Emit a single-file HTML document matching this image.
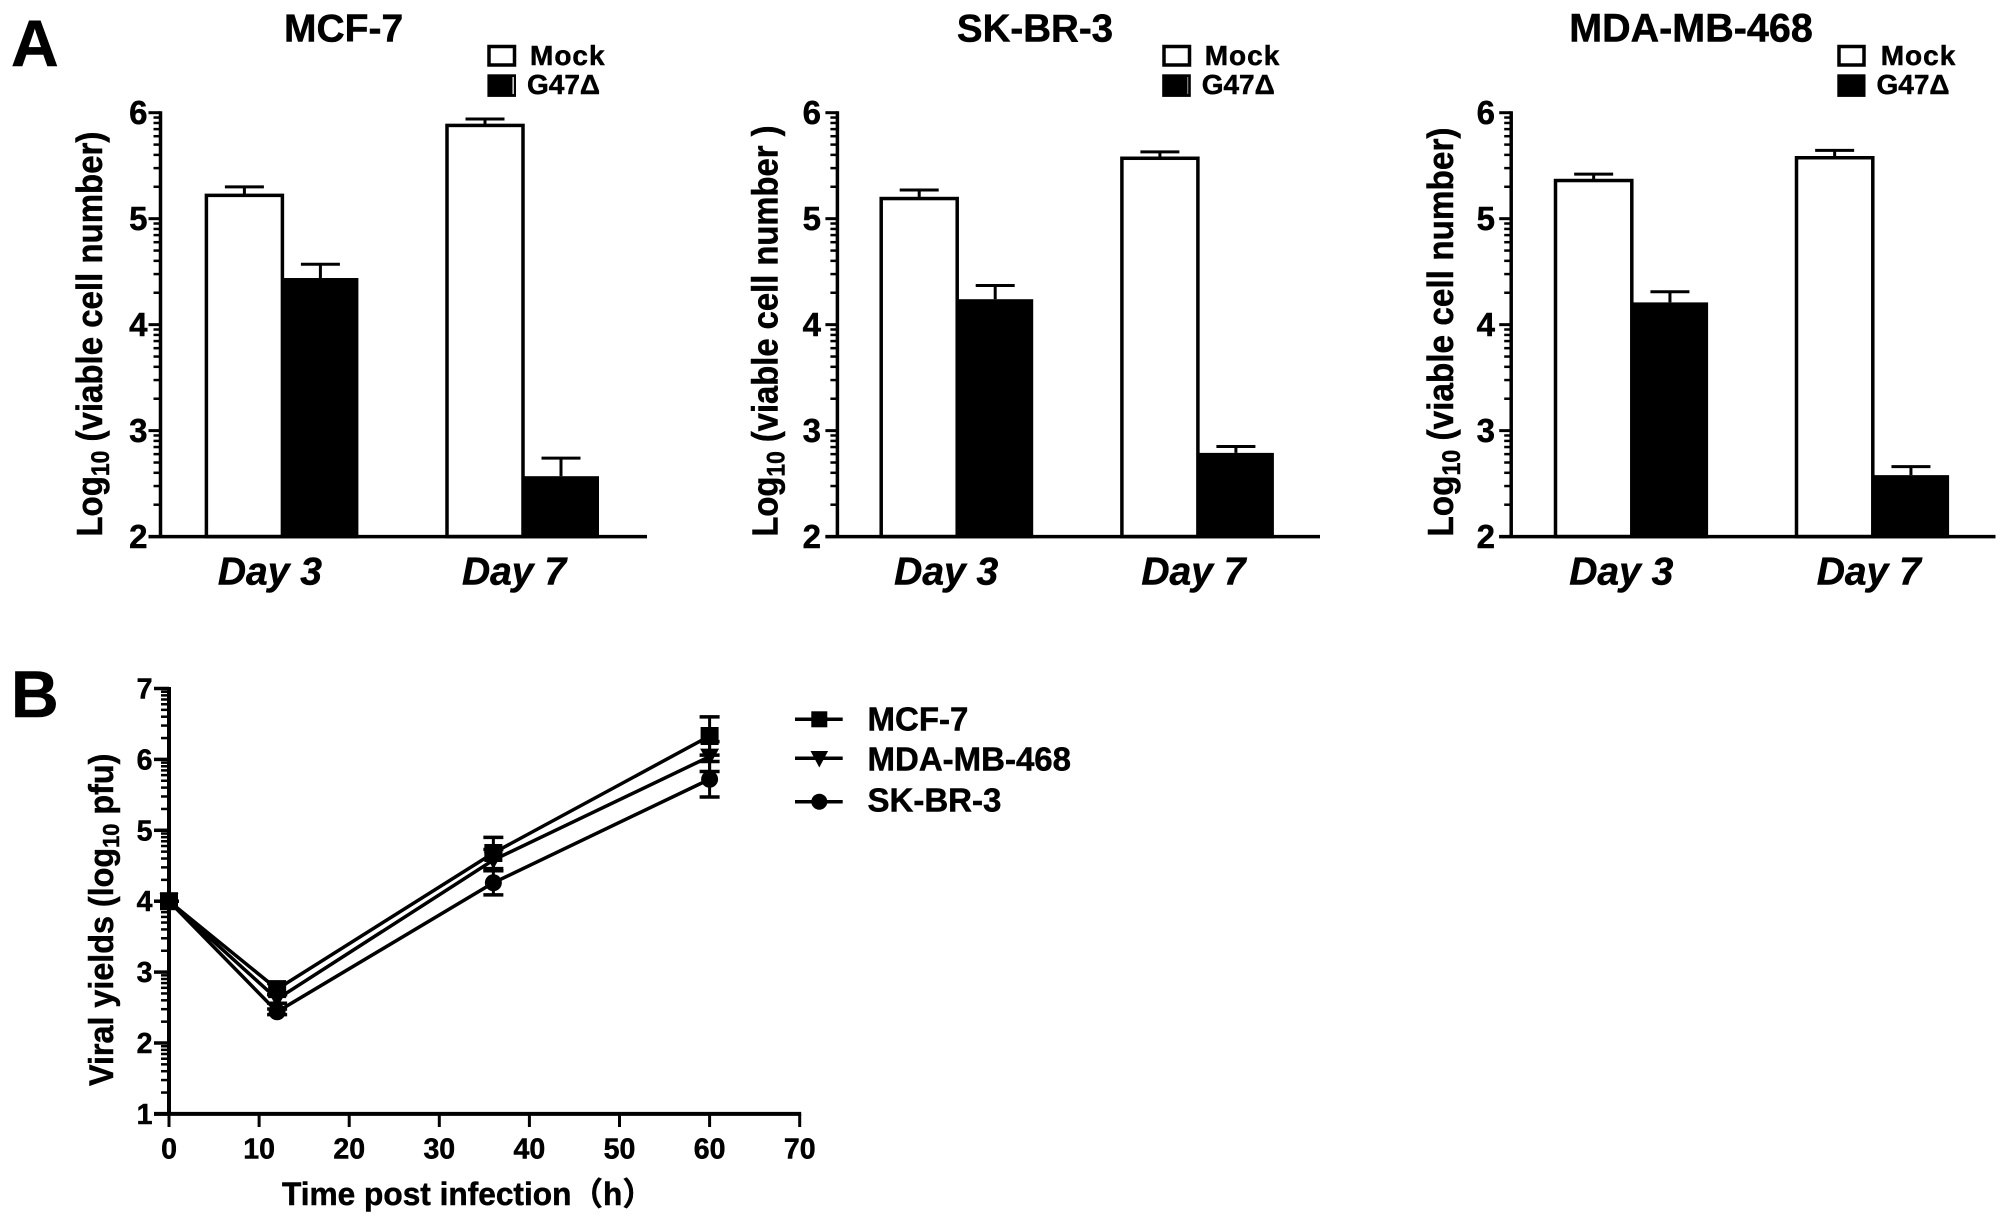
<!DOCTYPE html>
<html lang="en">
<head>
<meta charset="utf-8">
<title>Viable cell number and viral yields after G47Δ infection</title>
<style>
html,body{margin:0;padding:0;background:#fff;}
svg{display:block;}
text{font-family:"Liberation Sans","Noto Sans CJK SC",sans-serif;font-weight:bold;fill:#000;stroke:#000;stroke-width:0.5px;}
</style>
</head>
<body>
<svg id="figure" xmlns="http://www.w3.org/2000/svg" width="2008" height="1225" viewBox="0 0 2008 1225">
  <rect x="0" y="0" width="2008" height="1225" fill="#fff"/>
  <text x="11" y="66" font-size="66">A</text>
  <text x="11" y="717" font-size="66">B</text>

  <g id="panel-mcf7">
    <text x="343.6" y="41.5" font-size="39" text-anchor="middle">MCF-7</text>
    <text transform="translate(102,536.6) rotate(-90) scale(0.917,1)" font-size="36">Log<tspan dy="7" font-size="25">10</tspan><tspan dy="-7"> (viable cell number)</tspan></text>
    <rect x="489" y="46.5" width="25.5" height="18.5" fill="#fff" stroke="#000" stroke-width="3.5"/>
    <rect x="487.4" y="74.3" width="28.6" height="22.6" fill="#000"/>
    <rect x="512.5" y="77" width="1.3" height="17" fill="#fff"/>
    <text x="530" y="65.2" font-size="28" letter-spacing="1">Mock</text>
    <text x="527" y="94.1" font-size="28">G47Δ</text>
  </g>

  <g id="panel-skbr3">
    <text x="1035" y="41.5" font-size="38.5" text-anchor="middle">SK-BR-3</text>
    <text transform="translate(777.6,536.6) rotate(-90) scale(0.91,1)" font-size="36">Log<tspan dy="7" font-size="25">10</tspan><tspan dy="-7"> (viable cell number )</tspan></text>
    <rect x="1164" y="46.5" width="25.5" height="18.5" fill="#fff" stroke="#000" stroke-width="3.5"/>
    <rect x="1162.2" y="74.3" width="28.6" height="22.6" fill="#000"/>
    <rect x="1187" y="77" width="1.3" height="17" fill="#777"/>
    <text x="1204.7" y="65.2" font-size="28" letter-spacing="1">Mock</text>
    <text x="1201.7" y="94.1" font-size="28">G47Δ</text>
  </g>

  <g id="panel-mda">
    <text x="1691" y="41.5" font-size="39.5" text-anchor="middle">MDA-MB-468</text>
    <text transform="translate(1453,536.6) rotate(-90) scale(0.926,1)" font-size="36">Log<tspan dy="7" font-size="25">10</tspan><tspan dy="-7"> (viable cell number)</tspan></text>
    <rect x="1839" y="46.5" width="25" height="18.5" fill="#fff" stroke="#000" stroke-width="3.5"/>
    <rect x="1837.3" y="74.3" width="28.2" height="22.6" fill="#000"/>
    <text x="1880.7" y="65.2" font-size="28" letter-spacing="1">Mock</text>
    <text x="1876.5" y="94.1" font-size="28">G47Δ</text>
  </g>

  <g id="panel-viral">
    <text transform="translate(113,1086) rotate(-90) scale(0.95,1)" font-size="34">Viral yields (log<tspan dy="6" font-size="23">10</tspan><tspan dy="-6"> pfu)</tspan></text>
    <text x="282" y="1205" font-size="32" textLength="372" lengthAdjust="spacingAndGlyphs">Time post infection（h）</text>
    <g>
      <line x1="795" x2="842.7" y1="719.3" y2="719.3" stroke="#000" stroke-width="3.5"/>
      <rect x="811.3" y="711.3" width="16" height="16" fill="#000"/>
      <text x="867.5" y="730.7" font-size="33">MCF-7</text>
    </g>
    <g>
      <line x1="795" x2="842.7" y1="758.3" y2="758.3" stroke="#000" stroke-width="3.5"/>
      <polygon points="810.5,751 828.1,751 819.3,767.5" fill="#000"/>
      <text x="867.5" y="770.7" font-size="33">MDA-MB-468</text>
    </g>
    <g>
      <line x1="795" x2="842.7" y1="801.7" y2="801.7" stroke="#000" stroke-width="3.5"/>
      <circle cx="819.3" cy="801.7" r="8" fill="#000"/>
      <text x="867.5" y="811.7" font-size="33">SK-BR-3</text>
    </g>
  </g>
</svg>

<script>
// ---- Bar chart data (panel A) ----
const dayLabels = ['Day 3', 'Day 7'];
const barTickLabels = [2, 3, 4, 5, 6];
const minorMultipliers = [2, 3, 4, 5, 6, 7, 8, 9];

const mcf7Mock = [5.22, 5.88];
const mcf7MockErr = [0.08, 0.06];
const mcf7G47 = [4.44, 2.57];
const mcf7G47Err = [0.13, 0.17];

const skbr3Mock = [5.19, 5.57];
const skbr3MockErr = [0.08, 0.06];
const skbr3G47 = [4.24, 2.79];
const skbr3G47Err = [0.13, 0.06];

const mdaMock = [5.36, 5.575];
const mdaMockErr = [0.06, 0.07];
const mdaG47 = [4.21, 2.58];
const mdaG47Err = [0.10, 0.08];

// ---- Line chart data (panel B) ----
const hours = [0, 12, 36, 60];
const viralXTicks = [0, 10, 20, 30, 40, 50, 60, 70];
const viralYTicks = [1, 2, 3, 4, 5, 6, 7];

const viralMcf7 = [4, 2.76, 4.68, 6.33];
const viralMcf7Err = [0, 0.08, 0.22, 0.27];
const viralMda = [4, 2.62, 4.58, 6.04];
const viralMdaErr = [0, 0.06, 0.15, 0.21];
const viralSkbr3 = [4, 2.44, 4.26, 5.72];
const viralSkbr3Err = [0, 0.04, 0.17, 0.25];

const SVG_NS = 'http://www.w3.org/2000/svg';

function make(tag, parent, attrs) {
  const node = document.createElementNS(SVG_NS, tag);
  for (const key in attrs) node.setAttribute(key, attrs[key]);
  parent.appendChild(node);
  return node;
}

function drawBarPanel(id, prefix, mock, mockErr, g47, g47Err, layout) {
  const root = document.getElementById(id);
  const yAxis = function (v) { return 536.6 - (v - 2) * (536.6 - 112.7) / 4; };
  const barX = function (day, series) {
    return layout.axisX + layout.firstBar + day * layout.groupStep + series * layout.barWidth;
  };

  dayLabels.forEach(function (label, day) {
    const values = [mock[day], g47[day]];
    const errs = [mockErr[day], g47Err[day]];
    const names = ['mock', 'g47'];
    values.forEach(function (value, s) {
      const left = barX(day, s);
      const mid = left + layout.barWidth / 2;
      const top = yAxis(value);
      const capY = yAxis(value + errs[s]);

      const stem = make('line', root, { x1: mid, x2: mid, y1: top, y2: capY, stroke: '#000', 'stroke-width': 3 });
      
      

      const cap = make('line', root, { x1: mid - 19.5, x2: mid + 19.5, y1: capY, y2: capY, stroke: '#000', 'stroke-width': 3 });
      
      

      const inset = s === 0 ? 0 : 1.75;
      const bar = make('rect', root, {
        x: left + inset, y: top + inset,
        width: layout.barWidth - 2 * inset,
        height: Math.max(0, yAxis(2) - top - inset),
        fill: s === 0 ? '#fff' : '#000', stroke: '#000', 'stroke-width': 3.5
      });
      
      
    });

    const center = barX(day, 1) - 9 + layout.labelNudge[day];
    const dayText = make('text', root, { x: center, y: 584.5, 'font-size': 39, 'font-style': 'italic', 'text-anchor': 'middle' });
    dayText.textContent = label;
    
    
  });

  barTickLabels.forEach(function (tick, i) {
    const y = yAxis(tick);
    const major = make('line', root, { x1: layout.axisX - 12, x2: layout.axisX, y1: y, y2: y, stroke: '#000', 'stroke-width': 3 });
    
    

    const tickText = make('text', root, { x: layout.labelRight, y: y + 11.5, 'font-size': 33, 'text-anchor': 'end' });
    tickText.textContent = String(tick);
    
    

    if (i < barTickLabels.length - 1) {
      minorMultipliers.forEach(function (m) {
        const my = yAxis(tick + Math.log10(m));
        const minor = make('line', root, { x1: layout.axisX - 7, x2: layout.axisX, y1: my, y2: my, stroke: '#000', 'stroke-width': 2.5 });
        
        
      });
    }
  });

  const yLine = make('line', root, { x1: layout.axisX, x2: layout.axisX, y1: yAxis(6) - 1.5, y2: yAxis(2), stroke: '#000', 'stroke-width': 3.5 });
  
  

  const xLine = make('line', root, { x1: layout.axisX - 12, x2: layout.axisEnd, y1: yAxis(2), y2: yAxis(2), stroke: '#000', 'stroke-width': 3.5 });
  
  
}

drawBarPanel('panel-mcf7', 'mcf7', mcf7Mock, mcf7MockErr, mcf7G47, mcf7G47Err,
  { axisX: 160.5, axisEnd: 647, firstBar: 45.9, barWidth: 76, groupStep: 240.6, labelRight: 147.5, labelNudge: [-3.5, 0] });
drawBarPanel('panel-skbr3', 'skbr3', skbr3Mock, skbr3MockErr, skbr3G47, skbr3G47Err,
  { axisX: 837.4, axisEnd: 1320, firstBar: 43.8, barWidth: 76, groupStep: 240.7, labelRight: 821, labelNudge: [-2, 4.5] });
drawBarPanel('panel-mda', 'mda', mdaMock, mdaMockErr, mdaG47, mdaG47Err,
  { axisX: 1511.2, axisEnd: 1995.5, firstBar: 44.3, barWidth: 76.3, groupStep: 241, labelRight: 1495, labelNudge: [-1.5, 5] });

// ---- Panel B ----
(function () {
  const root = document.getElementById('panel-viral');
  const xAxis = function (h) { return 169 + h * (799.7 - 169) / 70; };
  const yAxis = function (v) { return 1113.9 - (v - 1) * (1113.9 - 688.5) / 6; };

  viralYTicks.forEach(function (tick, i) {
    const y = yAxis(tick);
    const major = make('line', root, { x1: 154, x2: 169, y1: y, y2: y, stroke: '#000', 'stroke-width': 3.5 });
    
    

    const label = make('text', root, { x: 152.5, y: y + 10, 'font-size': 28.5, 'text-anchor': 'end' });
    label.textContent = String(tick);
    
    

    if (i < viralYTicks.length - 1) {
      minorMultipliers.forEach(function (m) {
        const my = yAxis(tick + Math.log10(m));
        const minor = make('line', root, { x1: 161, x2: 169, y1: my, y2: my, stroke: '#000', 'stroke-width': 2.5 });
        
        
      });
    }
  });

  viralXTicks.forEach(function (tick) {
    const x = xAxis(tick);
    const mark = make('line', root, { x1: x, x2: x, y1: yAxis(1), y2: 1127, stroke: '#000', 'stroke-width': 3 });
    
    

    const label = make('text', root, { x: x, y: 1158.7, 'font-size': 28.5, 'text-anchor': 'middle' });
    label.textContent = String(tick);
    
    
  });

  const yLine = make('line', root, { x1: 169, x2: 169, y1: yAxis(7) - 1.5, y2: yAxis(1), stroke: '#000', 'stroke-width': 4 });
  
  

  const xLine = make('line', root, { x1: 154, x2: xAxis(70) + 1.5, y1: yAxis(1), y2: yAxis(1), stroke: '#000', 'stroke-width': 4 });
  
  

  function drawSeries(name, values, errs, markerKind) {
    const points = values.map(function (v, i) { return xAxis(hours[i]) + ',' + yAxis(v); }).join(' ');
    const line = make('polyline', root, { points: points, fill: 'none', stroke: '#000', 'stroke-width': 3.5, 'stroke-linejoin': 'miter' });
    
    

    values.forEach(function (v, i) {
      const cx = xAxis(hours[i]);
      const cy = yAxis(v);
      const top = yAxis(v + errs[i]);
      const bottom = yAxis(v - errs[i]);

      const stem = make('line', root, { x1: cx, x2: cx, y1: top, y2: bottom, stroke: '#000', 'stroke-width': 3 });
      
      

      [top, bottom].forEach(function (capY) {
        const cap = make('line', root, { x1: cx - 10, x2: cx + 10, y1: capY, y2: capY, stroke: '#000', 'stroke-width': 3.5 });
        
        
      });

      let marker;
      if (markerKind === 'square') {
        marker = make('rect', root, { x: cx - 9, y: cy - 9, width: 18, height: 18, fill: '#000' });
      } else if (markerKind === 'triangle') {
        marker = make('polygon', root, { points: (cx - 9.5) + ',' + (cy - 8) + ' ' + (cx + 9.5) + ',' + (cy - 8) + ' ' + cx + ',' + (cy + 9), fill: '#000' });
      } else {
        marker = make('circle', root, { cx: cx, cy: cy, r: 8.5, fill: '#000' });
      }
      
      
    });
  }

  drawSeries('skbr3', viralSkbr3, viralSkbr3Err, 'circle');
  drawSeries('mda', viralMda, viralMdaErr, 'triangle');
  drawSeries('mcf7', viralMcf7, viralMcf7Err, 'square');
})();
</script>
</body>
</html>
